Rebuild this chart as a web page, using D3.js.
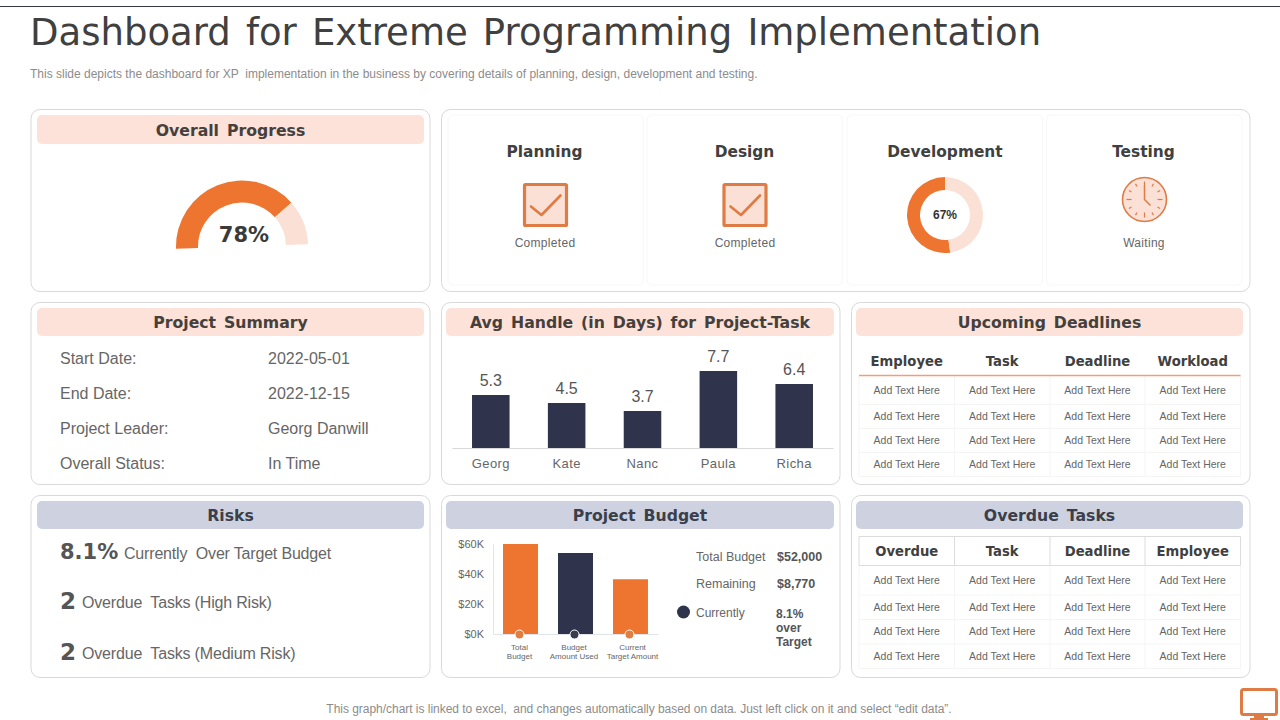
<!DOCTYPE html>
<html>
<head>
<meta charset="utf-8">
<script src="https://cdn.jsdelivr.net/npm/d3@7"></script>
<style>
body { margin: 0; background: #fff; }
text { font-family: "Liberation Sans", sans-serif; }
.head { font-family: "DejaVu Sans", sans-serif; font-weight: bold; }
</style>
</head>
<body>
<svg id="base" width="1280" height="720"></svg>
<script>
// values
let progressValue = [78, 22]
let devShare = [52.2, 47.8] // the drawn slice is smaller than its 67% label
let devLabel = "67%"
let stages = ["Planning", "Design", "Development", "Testing"]
let stageStatus = ["Completed", "Completed", "", "Waiting"]
let summaryLabels = ["Start Date:", "End Date:", "Project Leader:", "Overall Status:"]
let summaryValues = ["2022-05-01", "2022-12-15", "Georg Danwill", "In Time"]
let handleNames = ["Georg", "Kate", "Nanc", "Paula", "Richa"]
let handleDays = [5.3, 4.5, 3.7, 7.7, 6.4]
let riskCounts = ["8.1%", "2", "2"]
let riskTexts = ["Currently  Over Target Budget", "Overdue  Tasks (High Risk)", "Overdue  Tasks (Medium Risk)"]
let budgetNames = [["Total", "Budget"], ["Budget", "Amount Used"], ["Current", "Target Amount"]]
let budgetValues = [60, 54, 36.5]
let budgetTicks = [0, 20, 40, 60]
let budgetFacts = [["Total Budget", "$52,000"], ["Remaining", "$8,770"]]
let upcomingCols = ["Employee", "Task", "Deadline", "Workload"]
let overdueCols = ["Overdue", "Task", "Deadline", "Employee"]
let cellText = "Add Text Here"

const orange = "#ed7530", peach = "#fbe0d5", navy = "#2f334b", slate = "#ced2e0"
const iconLine = "#df7b45", grey = "#666"
const base = d3.select("#base")

function txt(x, y, s, size, color, anchor) {
    return base.append("text")
        .attr("x", x).attr("y", y)
        .attr("dominant-baseline", "central")
        .attr("text-anchor", anchor || "start")
        .style("white-space", "pre")
        .style("font-size", size + "px")
        .style("fill", color)
        .text(s)
}

function panel(x, y, w, h) {
    base.append("rect").attr("x", x).attr("y", y).attr("width", w).attr("height", h)
        .attr("rx", 9).attr("fill", "#fff").attr("stroke", "#d9d9d9").attr("stroke-width", 1)
}

function header(x, y, w, h, s, fill, color) {
    base.append("rect").attr("x", x).attr("y", y).attr("width", w).attr("height", h)
        .attr("rx", 5).attr("fill", fill)
    txt(x + w / 2, y + h / 2 + 0.5, s, 15.7, color, "middle").attr("class", "head").style("word-spacing", "2.5px")
}

// page furniture
base.append("line").attr("x1", 0).attr("x2", 1280).attr("y1", 6.5).attr("y2", 6.5).attr("stroke", "#333a45")
txt(30, 32.5, "Dashboard for Extreme Programming Implementation", 37, "#404040")
    .style("font-family", "'DejaVu Sans'").style("word-spacing", "3.4px")
txt(30, 73.5, "This slide depicts the dashboard for XP  implementation in the business by covering details of planning, design, development and testing.", 12, "#8c8c8c")
txt(639, 708.5, "This graph/chart is linked to excel,  and changes automatically based on data. Just left click on it and select \u201cedit data\u201d.", 12, "#8c8c8c", "middle")
    .style("letter-spacing", "-0.03px")

// panels
let colX = [31, 441.5, 851.5], colW = [399, 398.5, 398.5]
let rowY = [109.5, 302.5, 495.5], rowH = 182
panel(colX[0], rowY[0], colW[0], rowH)
panel(colX[1], rowY[0], 808.5, rowH)
rowY.slice(1).forEach(y => colX.forEach((x, i) => panel(x, y, colW[i], rowH)))

header(37, 115, 387, 29, "Overall Progress", "#fce2d8", "#46403c")
header(37, 308, 387, 28, "Project Summary", "#fce2d8", "#46403c")
header(446, 308, 388, 28, "Avg Handle (in Days) for Project-Task", "#fce2d8", "#46403c")
header(856, 308, 387, 28, "Upcoming Deadlines", "#fce2d8", "#46403c")
header(37, 501, 387, 28, "Risks", slate, "#3b3f4c")
header(446, 501, 388, 28, "Project Budget", slate, "#3b3f4c")
header(856, 501, 387, 28, "Overdue Tasks", slate, "#3b3f4c")

// overall progress gauge, tilted a little like the source
let gaugeTilt = -92 * Math.PI / 180
let gaugePie = d3.pie().sort(null).startAngle(gaugeTilt).endAngle(gaugeTilt + Math.PI)
let gaugeArc = d3.arc().innerRadius(44).outerRadius(66)
base.append("g").attr("transform", "translate(242,246.5)")
    .selectAll("path").data(gaugePie(progressValue)).join("path")
    .attr("d", gaugeArc)
    .attr("fill", (d, i) => i == 0 ? orange : peach)
txt(244, 235, progressValue[0] + "%", 21, "#3a3a3a", "middle").attr("class", "head")

// stage cards
let cardX = [448, 647, 847, 1046.5]
let stageX = [544.5, 744.5, 945, 1143.5]
stages.forEach((s, i) => {
    base.append("rect").attr("x", cardX[i]).attr("y", 115).attr("width", 195.5).attr("height", 170)
        .attr("rx", 5).attr("fill", "#fff").attr("stroke", "#f8f8f8")
    txt(stageX[i], 151.5, s, 15.4, "#404040", "middle").attr("class", "head")
    if (stageStatus[i]) txt(stageX[i] + 0.5, 243, stageStatus[i], 12, grey, "middle").style("letter-spacing", "0.3px")
})

function checkbox(cx) {
    let g = base.append("g").attr("transform", "translate(" + cx + ",205)")
    g.append("rect").attr("x", -21).attr("y", -20.5).attr("width", 42).attr("height", 41)
        .attr("fill", peach).attr("stroke", iconLine).attr("stroke-width", 3.2).attr("rx", 1)
    g.append("path").attr("d", "M-14.5,1.5L-4,10L15,-9.5").attr("fill", "none")
        .attr("stroke", iconLine).attr("stroke-width", 2.6).attr("stroke-linecap", "round").attr("stroke-linejoin", "round")
}
checkbox(545.5)
checkbox(745)

// development donut, orange runs counter-clockwise from the top
let donutPie = d3.pie().sort(null).startAngle(0).endAngle(-2 * Math.PI)
let donutArc = d3.arc().innerRadius(25).outerRadius(38)
base.append("g").attr("transform", "translate(945,215)")
    .selectAll("path").data(donutPie(devShare)).join("path")
    .attr("d", donutArc)
    .attr("fill", (d, i) => i == 0 ? orange : peach)
txt(945, 215, devLabel, 12, "#333", "middle").style("font-weight", "bold")

// testing clock
let clock = base.append("g").attr("transform", "translate(1144.5,199.5)")
clock.append("circle").attr("r", 22).attr("fill", peach).attr("stroke", iconLine).attr("stroke-width", 1.6)
d3.range(12).forEach(h => {
    let a = h * Math.PI / 6, long = h % 3 == 0
    let r0 = long ? 13 : 15, r1 = 18
    clock.append("line")
        .attr("x1", r0 * Math.sin(a)).attr("y1", -r0 * Math.cos(a))
        .attr("x2", r1 * Math.sin(a)).attr("y2", -r1 * Math.cos(a))
        .attr("stroke", iconLine).attr("stroke-width", 1.2)
})
clock.append("path").attr("d", "M0,-14L0,0L6,6").attr("fill", "none").attr("stroke", iconLine).attr("stroke-width", 1.5)

// project summary
let summaryY = [358, 393, 428, 463]
summaryLabels.forEach((s, i) => {
    txt(60, summaryY[i], s, 16, grey)
    txt(268, summaryY[i], summaryValues[i], 16, grey)
})

// avg handle bars
let handleX = d3.scaleBand().domain(handleNames).range([452, 833]).paddingInner(0.505).paddingOuter(0.264)
let handleY = d3.scaleLinear().domain([0, 10]).range([448, 348])
let handleAxis = base.append("g").attr("transform", "translate(0,448)")
    .call(d3.axisBottom(handleX).tickSize(0).tickPadding(9))
handleAxis.select(".domain").attr("stroke", "#d9d9d9")
handleAxis.selectAll("text").style("font-family", "'Liberation Sans'").style("font-size", "13px")
    .style("fill", grey).style("letter-spacing", "0.4px").attr("dy", "0.85em")
base.append("g").selectAll("rect").data(handleDays).join("rect")
    .attr("x", (d, i) => handleX(handleNames[i]))
    .attr("y", d => handleY(d))
    .attr("width", handleX.bandwidth())
    .attr("height", d => 448 - handleY(d))
    .attr("fill", navy)
handleDays.forEach((d, i) => {
    txt(handleX(handleNames[i]) + handleX.bandwidth() / 2, handleY(d) - 15, d, 16, "#555", "middle")
})

// risks
let riskY = [553, 602, 653], riskTextX = [124, 82, 82]
riskCounts.forEach((s, i) => {
    txt(60, riskY[i] - 1, s, i == 0 ? 21 : 23, "#555").attr("class", "head")
    txt(riskTextX[i], riskY[i], riskTexts[i], 16, grey).style("letter-spacing", "-0.18px")
})

// project budget
let budgetX = d3.scaleBand().domain(budgetNames.map(d => d.join(" "))).range([493, 658]).paddingInner(0.364).paddingOuter(0.182)
let budgetY = d3.scaleLinear().domain([0, 60]).range([634, 544])
let budgetLeft = base.append("g").attr("transform", "translate(493,0)")
    .call(d3.axisLeft(budgetY).tickValues(budgetTicks).tickFormat(d => "$" + d + "K").tickSize(0).tickPadding(9))
budgetLeft.select(".domain").attr("stroke", "#e3e3e3")
budgetLeft.selectAll("text").style("font-family", "'Liberation Sans'").style("font-size", "11px").style("fill", grey)
let budgetBottom = base.append("g").attr("transform", "translate(0,634)")
    .call(d3.axisBottom(budgetX).tickSize(0).tickFormat(""))
budgetBottom.select(".domain").attr("stroke", "#dfe3ea")
let budgetColors = [orange, navy, orange]
base.append("g").selectAll("rect").data(budgetValues).join("rect")
    .attr("x", (d, i) => budgetX(budgetNames[i].join(" ")))
    .attr("y", d => budgetY(d))
    .attr("width", budgetX.bandwidth())
    .attr("height", d => 634 - budgetY(d))
    .attr("fill", (d, i) => budgetColors[i])
let labelNudge = [-1, -1.5, 2]
budgetNames.forEach((n, i) => {
    let cx = budgetX(n.join(" ")) + budgetX.bandwidth() / 2
    base.append("circle").attr("cx", cx - 1).attr("cy", 634.5).attr("r", 4.5)
        .attr("fill", i == 1 ? "#3a3d52" : "#e07f42").attr("stroke", "#fff").attr("stroke-width", 1)
    txt(cx + labelNudge[i], 647, n[0], 8, grey, "middle")
    txt(cx + labelNudge[i], 656.5, n[1], 8, grey, "middle")
})
budgetFacts.forEach((f, i) => {
    let y = i == 0 ? 556.5 : 583.5
    txt(696, y, f[0], 12.5, grey)
    txt(777, y, f[1], 12.5, "#555").style("font-weight", "bold")
})
base.append("circle").attr("cx", 683.5).attr("cy", 612).attr("r", 6.5).attr("fill", navy)
txt(696, 612.5, "Currently", 12, grey)
txt(776, 613.5, "8.1%", 12, "#555").style("font-weight", "bold")
txt(776, 627.5, "over", 12, "#555").style("font-weight", "bold")
txt(776, 641.5, "Target", 12, "#555").style("font-weight", "bold")

// tables
let tableX = [859, 954.5, 1050, 1145, 1240.5]
function tableBody(lineY, textY) {
    lineY.forEach((y, i) => {
        if (i == 0) return
        base.append("line").attr("x1", tableX[0]).attr("x2", tableX[4]).attr("y1", y).attr("y2", y).attr("stroke", "#f5f5f5")
    })
    tableX.forEach(x => {
        base.append("line").attr("x1", x).attr("x2", x).attr("y1", lineY[0]).attr("y2", lineY[lineY.length - 1]).attr("stroke", "#f5f5f5")
    })
    textY.forEach(y => {
        d3.range(4).forEach(c => {
            txt((tableX[c] + tableX[c + 1]) / 2, y, cellText, 10.5, grey, "middle")
        })
    })
}
function tableHead(cols, y) {
    cols.forEach((s, c) => {
        txt((tableX[c] + tableX[c + 1]) / 2, y, s, 13.2, "#404040", "middle").attr("class", "head")
    })
}

tableBody([375.5, 404.5, 428.5, 452.5, 476.5], [390, 416, 440, 464])
base.append("line").attr("x1", tableX[0]).attr("x2", tableX[4]).attr("y1", 375.5).attr("y2", 375.5)
    .attr("stroke", "#ee9f78").attr("stroke-width", 1.5)
tableHead(upcomingCols, 361.5)

tableBody([565.5, 595, 619.5, 644, 668.5], [580, 607, 631, 656])
tableX.forEach(x => {
    base.append("line").attr("x1", x).attr("x2", x).attr("y1", 536.5).attr("y2", 565.5).attr("stroke", "#dcdcdc")
})
base.append("line").attr("x1", tableX[0]).attr("x2", tableX[4]).attr("y1", 536.5).attr("y2", 536.5).attr("stroke", "#dcdcdc")
base.append("line").attr("x1", tableX[0]).attr("x2", tableX[4]).attr("y1", 565.5).attr("y2", 565.5).attr("stroke", "#dcdcdc")
tableHead(overdueCols, 551)

// monitor icon in the corner
base.append("rect").attr("x", 1241.5).attr("y", 689.5).attr("width", 35).attr("height", 25)
    .attr("rx", 2).attr("fill", "#fff").attr("stroke", iconLine).attr("stroke-width", 3)
base.append("rect").attr("x", 1254).attr("y", 715).attr("width", 10).attr("height", 3).attr("fill", iconLine)
base.append("rect").attr("x", 1250).attr("y", 718).attr("width", 18).attr("height", 2).attr("fill", iconLine)
</script>
</body>
</html>
